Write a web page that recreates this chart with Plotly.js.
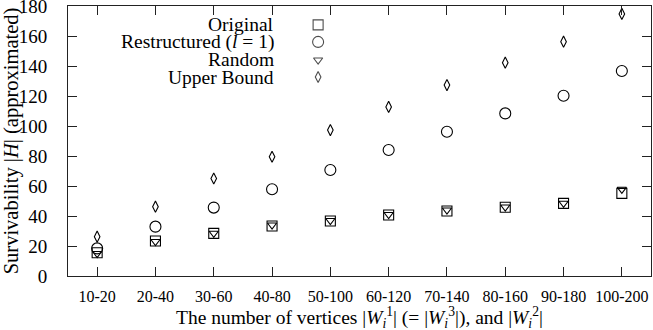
<!DOCTYPE html>
<html>
<head>
<meta charset="utf-8">
<script src="https://cdn.plot.ly/plotly-3.0.1.min.js"></script>
<style>html,body{margin:0;padding:0;background:#fff;}#chart{width:653px;height:330px;}</style>
</head>
<body>
<div id="chart"></div>
<script>
const categories = ["10-20","20-40","30-60","40-80","50-100","60-120","70-140","80-160","90-180","100-200"];
const original     = [15.5, 23.3, 28.4, 33.3, 36.7, 40.7, 43.3, 45.8, 48.4, 55.1];
const restructured = [18.4, 32.9, 45.6, 57.8, 70.7, 84.0, 96.2, 108.4, 120.2, 136.7];
const random       = [15.0, 23.0, 28.5, 34.0, 37.0, 41.0, 44.0, 46.0, 48.5, 57.8];
const upperBound   = [26.2, 46.2, 65.0, 79.5, 97.3, 112.7, 127.3, 142.2, 156.2, 174.7];
const seriesNames  = ["Original", "Restructured (<i>l</i> = 1)", "Random", "Upper Bound"];
const yTicks = [0,20,40,60,80,100,120,140,160,180];
const xTitle = "The number of vertices |<i>W</i><sub><i>i</i></sub><sup>1</sup>| (= |<i>W</i><sub><i>i</i></sub><sup>3</sup>|), and |<i>W</i><sub><i>i</i></sub><sup>2</sup>|";

const FONT = '"Liberation Serif", "Times New Roman", Times, serif';
const symbols = ["square-open","circle-open","triangle-down-open","diamond-tall-open"];
const sizes = [10, 11, 8, 8];
const xIdx = categories.map((c,i)=>i);

const seriesVals = [original, restructured, random, upperBound];
const traces = seriesVals.map((vals, k) => ({
  type: "scatter", mode: "markers", x: xIdx, y: vals, name: seriesNames[k],
  marker: {symbol: symbols[k], size: sizes[k], color: "#000", line: {width: 1.1, color: "#000"}},
  showlegend: false, hoverinfo: "skip", cliponaxis: false
}));

// legend keys on an overlay axis (0..1)
const legX = 0.429, legTextX = 0.357;
const legY = [0.930, 0.867, 0.800, 0.737];
traces.push({
  type: "scatter", mode: "markers", xaxis: "x2", yaxis: "y2",
  x: legY.map(()=>legX), y: legY,
  marker: {symbol: symbols, size: sizes, color: "#000", line: {width: 1.1, color: "#000"}},
  showlegend: false, hoverinfo: "skip", cliponaxis: false
});

const annotations = seriesNames.map((n,k)=>({
  xref: "paper", yref: "paper", x: legTextX, y: legY[k], xanchor: "right", yanchor: "middle",
  text: n, showarrow: false, font: {family: FONT, size: 19.5, color: "#000"}
}));
annotations.push({
  xref: "paper", yref: "paper", x: 0.5, y: -0.152, xanchor: "center", yanchor: "middle",
  text: xTitle, showarrow: false, font: {family: FONT, size: 19.5, color: "#000"}
});

const layout = {
  width: 653, height: 330,
  margin: {l: 68, r: 2, t: 6, b: 54},
  paper_bgcolor: "#fff", plot_bgcolor: "#fff",
  font: {family: FONT, color: "#000"},
  showlegend: false,
  xaxis: {
    range: [-0.5, 9.5], tickmode: "array", tickvals: xIdx, ticktext: categories,
    ticks: "inside", ticklen: 9, tickwidth: 1, tickcolor: "#222",
    showline: true, linecolor: "#222", linewidth: 1, mirror: "allticks",
    showgrid: false, zeroline: false, ticklabelstandoff: 6, ticklabeloverflow: "allow",
    tickfont: {family: FONT, size: 16, color: "#000"}
  },
  yaxis: {
    range: [0, 180], tickmode: "array", tickvals: yTicks,
    ticks: "inside", ticklen: 9, tickwidth: 1, tickcolor: "#222",
    showline: true, linecolor: "#222", linewidth: 1, mirror: "allticks",
    showgrid: false, zeroline: false, ticklabelstandoff: 16, ticklabeloverflow: "allow",
    tickfont: {family: FONT, size: 19, color: "#000"},
    title: {text: "Survivability |<i>H</i>| (approximated)", font: {family: FONT, size: 20.5, color: "#000"}, standoff: 2}
  },
  xaxis2: {overlaying: "x", range: [0,1], visible: false, fixedrange: true},
  yaxis2: {overlaying: "y", range: [0,1], visible: false, fixedrange: true},
  annotations: annotations
};

Plotly.newPlot("chart", traces, layout, {staticPlot: true, displayModeBar: false});
</script>
</body>
</html>
